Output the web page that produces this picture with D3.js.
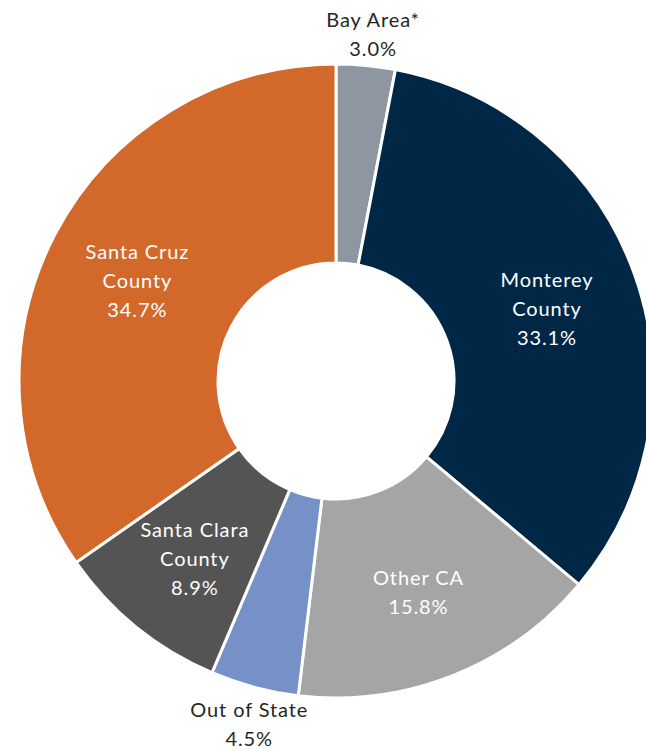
<!DOCTYPE html>
<html><head><meta charset="utf-8">
<script src="https://cdn.jsdelivr.net/npm/d3@7"></script>
<style>html,body{margin:0;padding:0;background:#fff;overflow:hidden}</style>
</head><body><svg id="c" width="646" height="751"></svg>
<script>
const categories = ["Bay Area*", "Monterey County", "Other CA", "Out of State", "Santa Clara County", "Santa Cruz County"];
const values = [3.0, 33.1, 15.8, 4.5, 8.9, 34.7];
const labelLines = [["Bay Area*"], ["Monterey", "County"], ["Other CA"], ["Out of State"], ["Santa Clara", "County"], ["Santa Cruz", "County"]];
const outside = [true, false, false, true, false, false];
const colors = ["#8E96A1", "#002846", "#A5A5A5", "#7591C7", "#545454", "#D2692B"];

const W = 646, H = 751, cx = 336, cy = 381, R = 317, r0 = 118;
const svg = d3.select("#c");
const g = svg.append("g").attr("transform", `translate(${cx},${cy})`);
const data = categories.map((c, i) => ({c, v: values[i], i}));
const pie = d3.pie().value(d => d.v).sort(null);
const arcs = pie(data);
const arc = d3.arc().innerRadius(r0).outerRadius(R);
const labelArc = d3.arc().innerRadius(224).outerRadius(224);
const outArc = d3.arc().innerRadius(352).outerRadius(352);

g.selectAll("path").data(arcs).join("path")
  .attr("d", arc).attr("fill", d => colors[d.data.i])
  .attr("stroke", "#fff").attr("stroke-width", 3).attr("stroke-linejoin", "miter");

const fs = 20, lh = 29;
arcs.forEach(d => {
  const i = d.data.i;
  const lines = labelLines[i].concat([d3.format(".1f")(d.data.v) + "%"]);
  const [x, y] = outside[i] ? outArc.centroid(d) : labelArc.centroid(d);
  const t = g.append("text").attr("text-anchor", "middle")
    .attr("font-family", "Lato, 'Open Sans', sans-serif").attr("font-size", fs)
    .attr("letter-spacing", "0.9px")
    .attr("fill", outside[i] ? "#262626" : "#fff");
  const y0 = y + 4 - (lines.length - 1) * lh / 2;
  lines.forEach((ln, k) => {
    t.append("tspan").attr("x", x + (outside[i] ? 4 : 0)).attr("y", y0 + k * lh).attr("dy", "0.33em").text(ln);
  });
});
</script></body></html>
